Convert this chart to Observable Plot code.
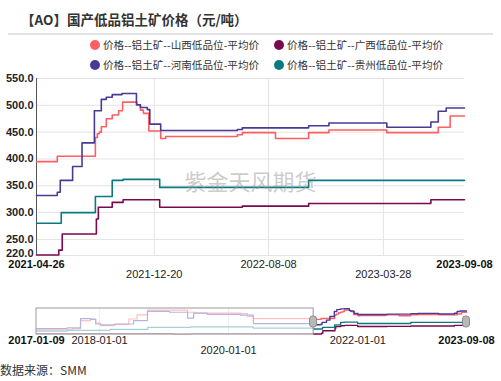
<!DOCTYPE html>
<html><head><meta charset="utf-8">
<script src="https://cdn.jsdelivr.net/npm/d3@7"></script>
<script src="https://cdn.jsdelivr.net/npm/@observablehq/plot@0.6"></script>
<style>
body{margin:0;background:#fff;width:501px;height:381px;overflow:hidden;position:relative;font-family:"Noto Sans CJK SC","Liberation Sans",sans-serif;}
#title{position:absolute;left:21px;top:10px;font-size:13.5px;font-weight:bold;color:#333;line-height:18px;white-space:nowrap;}
#rule{position:absolute;left:8px;top:32.5px;width:485px;height:2px;background:#e3e3e3;}
.leg{position:absolute;font-size:10.6px;color:#333;line-height:14px;white-space:nowrap;}
.leg .dot{position:absolute;left:-13px;top:2px;width:10px;height:10px;border-radius:50%;}
#main{position:absolute;left:0;top:70px;}
#nav{position:absolute;left:0;top:300px;}
#src{position:absolute;left:0;top:362px;font-size:12px;color:#333;line-height:16px;}
</style></head><body>
<div id="title">【AO】国产低品铝土矿价格（元/吨）</div>
<div id="rule"></div>
<div id="legend"></div>
<div id="main"></div>
<div id="nav"></div>
<div id="src">数据来源：SMM</div>
<script>
const seriesNames = ["价格--铝土矿--山西低品位-平均价","价格--铝土矿--广西低品位-平均价","价格--铝土矿--河南低品位-平均价","价格--铝土矿--贵州低品位-平均价"];
const seriesColors = ["#ff5f62","#7a0a4e","#4a3a96","#0b7a80"];
const fadedColors = ["#ffc0c1","#d8aac8","#bab2de","#a2d2d5"];

const shanxiDates = ["2021-04-26","2021-06-07","2021-08-23","2021-08-27","2021-08-31","2021-09-04","2021-09-14","2021-09-26","2021-10-09","2021-10-17","2021-11-15","2021-11-22","2021-11-28","2021-12-09","2022-01-02","2022-01-12","2022-06-06","2022-06-16","2022-08-22","2022-10-28","2022-12-08","2023-04-04","2023-07-17","2023-08-10","2023-09-08"];
const shanxiValues = [395,405,440,447,450,460,475,482,490,506,500,491,485,452,438,442,445,449,438,449,454,449,459,480,480];

const guangxiDates = ["2021-04-26","2021-06-10","2021-06-17","2021-08-25","2021-08-29","2021-09-26","2021-10-18","2021-12-31","2022-06-16","2022-10-28","2023-07-02","2023-09-08"];
const guangxiValues = [221,230,260,288,310,319,324,310,312,317,324,324];

const henanDates = ["2021-04-26","2021-06-07","2021-06-13","2021-07-08","2021-07-27","2021-08-21","2021-09-04","2021-09-14","2021-09-26","2021-10-16","2021-11-14","2021-11-22","2021-12-06","2021-12-11","2022-01-02","2022-06-06","2022-06-16","2022-10-28","2022-12-08","2023-04-04","2023-07-02","2023-07-17","2023-08-02","2023-09-08"];
const henanValues = [332,338,360,386,430,490,511,515,520,522,501,496,492,465,453,455,458,462,467,459,469,489,495,495];

const guizhouDates = ["2021-04-26","2021-06-15","2021-08-23","2021-09-26","2021-10-18","2021-12-31","2022-10-28","2023-09-08"];
const guizhouValues = [280,300,330,360,362,347,360,360];

// history shown only in the zoom navigator
const histShanxiDates = ["2017-01-09","2017-08-01","2017-09-15","2017-11-11","2017-12-10","2018-01-06","2018-03-21","2018-06-15","2018-08-01","2018-09-29","2019-05-14","2019-07-01","2020-03-07","2020-04-16","2020-05-20","2021-04-26"];
const histShanxiValues = [270,285,380,400,350,320,335,400,450,505,480,470,465,430,405,395];
const histGuangxiDates = ["2017-01-09","2019-02-23","2019-06-01","2021-04-26"];
const histGuangxiValues = [225,218,224,221];
const histHenanDates = ["2017-01-09","2017-07-01","2017-09-15","2017-11-11","2017-12-10","2018-01-06","2018-04-01","2018-07-12","2018-09-29","2019-02-01","2019-05-14","2019-06-17","2019-09-01","2020-03-07","2020-05-20","2021-04-26"];
const histHenanValues = [285,295,405,395,340,330,340,380,490,480,410,470,455,445,345,332];
const histGuizhouDates = ["2017-01-09","2017-07-01","2018-03-01","2018-10-01","2019-06-01","2020-05-20","2021-04-26"];
const histGuizhouValues = [255,265,275,300,305,290,280];

const yTicks = [250,300,350,400,450,500,550];
const yTickBottom = [220];
const xTicksBold = ["2021-04-26","2023-09-08"];
const xTicksRow1 = ["2022-08-08"];
const xTicksRow2 = ["2021-12-20","2023-03-28"];
const navTicksBold = ["2017-01-09","2023-09-08"];
const navTicksRow1 = ["2018-01-01","2022-01-01"];
const navTicksRow2 = ["2020-01-01"];
const watermark = "紫金天风期货";

const parse = d3.utcParse("%Y-%m-%d");
const fmt = d3.utcFormat("%Y-%m-%d");
function build(list) {
  const rows = [];
  list.forEach(([name, ds, vs]) => ds.forEach((d, i) => rows.push({series: name, date: parse(d), value: vs[i]})));
  return rows;
}
const rows = build([[seriesNames[0], shanxiDates, shanxiValues],[seriesNames[1], guangxiDates, guangxiValues],[seriesNames[2], henanDates, henanValues],[seriesNames[3], guizhouDates, guizhouValues]]);
const histRows = build([[seriesNames[0], histShanxiDates, histShanxiValues],[seriesNames[1], histGuangxiDates, histGuangxiValues],[seriesNames[2], histHenanDates, histHenanValues],[seriesNames[3], histGuizhouDates, histGuizhouValues]]);

// legend
const legend = document.getElementById("legend");
const legPos = [[103,38],[287,38],[103,58],[287,58]];
seriesNames.forEach((n, i) => {
  const el = document.createElement("div");
  el.className = "leg";
  el.style.left = legPos[i][0] + "px";
  el.style.top = legPos[i][1] + "px";
  el.innerHTML = `<span class="dot" style="background:${seriesColors[i]}"></span>${n}`;
  legend.appendChild(el);
});

const x0 = parse(shanxiDates[0]), x1 = parse(shanxiDates[shanxiDates.length - 1]);
const font = "Liberation Sans, Arial, sans-serif";
const main = Plot.plot({
  width: 501, height: 215,
  marginLeft: 36, marginRight: 37, marginTop: 8, marginBottom: 30,
  x: {type: "utc", domain: [x0, x1]},
  y: {domain: [220, 550]},
  color: {domain: seriesNames, range: seriesColors},
  style: {fontFamily: font, fontSize: "11px", color: "#333", background: "#fff", overflow: "visible"},
  marks: [
    Plot.gridY(yTicks.concat(yTickBottom), {stroke: "#e3e3e3", strokeOpacity: 1}),
    Plot.gridX(xTicksRow1.concat(xTicksRow2).map(parse), {stroke: "#e3e3e3", strokeOpacity: 1}),
    Plot.ruleX([x0], {stroke: "#555"}),
    Plot.line(rows, {x: "date", y: "value", z: "series", stroke: "series", curve: "step-after", strokeWidth: 1.6}),
    Plot.text([watermark], {frameAnchor: "middle", dy: 16, fontSize: 22, fill: "#999", fillOpacity: 0.5, fontFamily: "Noto Sans CJK SC"}),
    Plot.axisY(yTicks, {tickFormat: d3.format(".1f"), tickSize: 0, tickPadding: 3, fontWeight: "bold", fill: "#222", label: null}),
    Plot.axisY(yTickBottom, {tickFormat: d3.format(".1f"), tickSize: 0, tickPadding: 3, dy: -2, fontWeight: "bold", fill: "#222", label: null}),
    Plot.axisX(xTicksBold.map(parse), {tickFormat: fmt, tickSize: 0, tickPadding: 5, fontWeight: "bold", fill: "#111", label: null}),
    Plot.axisX(xTicksRow1.map(parse), {tickFormat: fmt, tickSize: 0, tickPadding: 5, fill: "#222", label: null}),
    Plot.axisX(xTicksRow2.map(parse), {tickFormat: fmt, tickSize: 0, tickPadding: 15, fill: "#222", label: null})
  ]
});
document.getElementById("main").appendChild(main);

const n0 = parse(navTicksBold[0]);
const nav = Plot.plot({
  width: 501, height: 60,
  marginLeft: 36, marginRight: 35, marginTop: 8, marginBottom: 26,
  x: {type: "utc", domain: [n0, x1]},
  y: {domain: [215, 525], axis: null},
  color: {domain: seriesNames, range: fadedColors},
  style: {fontFamily: font, fontSize: "11px", color: "#333", background: "#fff", overflow: "visible"},
  marks: [
    Plot.gridX(navTicksRow1.slice(0,1).concat(navTicksRow2).map(parse), {stroke: "#eee", strokeOpacity: 1}),
    Plot.line(histRows, {x: "date", y: "value", z: "series", stroke: "series", curve: "step-after", strokeWidth: 1.2}),
    Plot.line(rows, {x: "date", y: "value", z: "series", stroke: d => seriesColors[seriesNames.indexOf(d.series)], curve: "step-after", strokeWidth: 1.4}),
    Plot.rect([{a: n0, b: x0}], {x1: "a", x2: "b", fill: "none", stroke: "#999", strokeWidth: 1}),
    Plot.rect([x0, x1], {x1: d => d, x2: d => d, insetLeft: -3.5, insetRight: -3.5, insetTop: 8, insetBottom: 7, rx: 3, fill: "#b8b8b8", stroke: "#8a8a8a"}),
    Plot.axisX(navTicksBold.map(parse), {tickFormat: fmt, tickSize: 0, tickPadding: 2, fontWeight: "bold", fill: "#111", label: null}),
    Plot.axisX(navTicksRow1.map(parse), {tickFormat: fmt, tickSize: 0, tickPadding: 2, fill: "#222", label: null}),
    Plot.axisX(navTicksRow2.map(parse), {tickFormat: fmt, tickSize: 0, tickPadding: 12, fill: "#222", label: null})
  ]
});
document.getElementById("nav").appendChild(nav);
</script>
</body></html>
